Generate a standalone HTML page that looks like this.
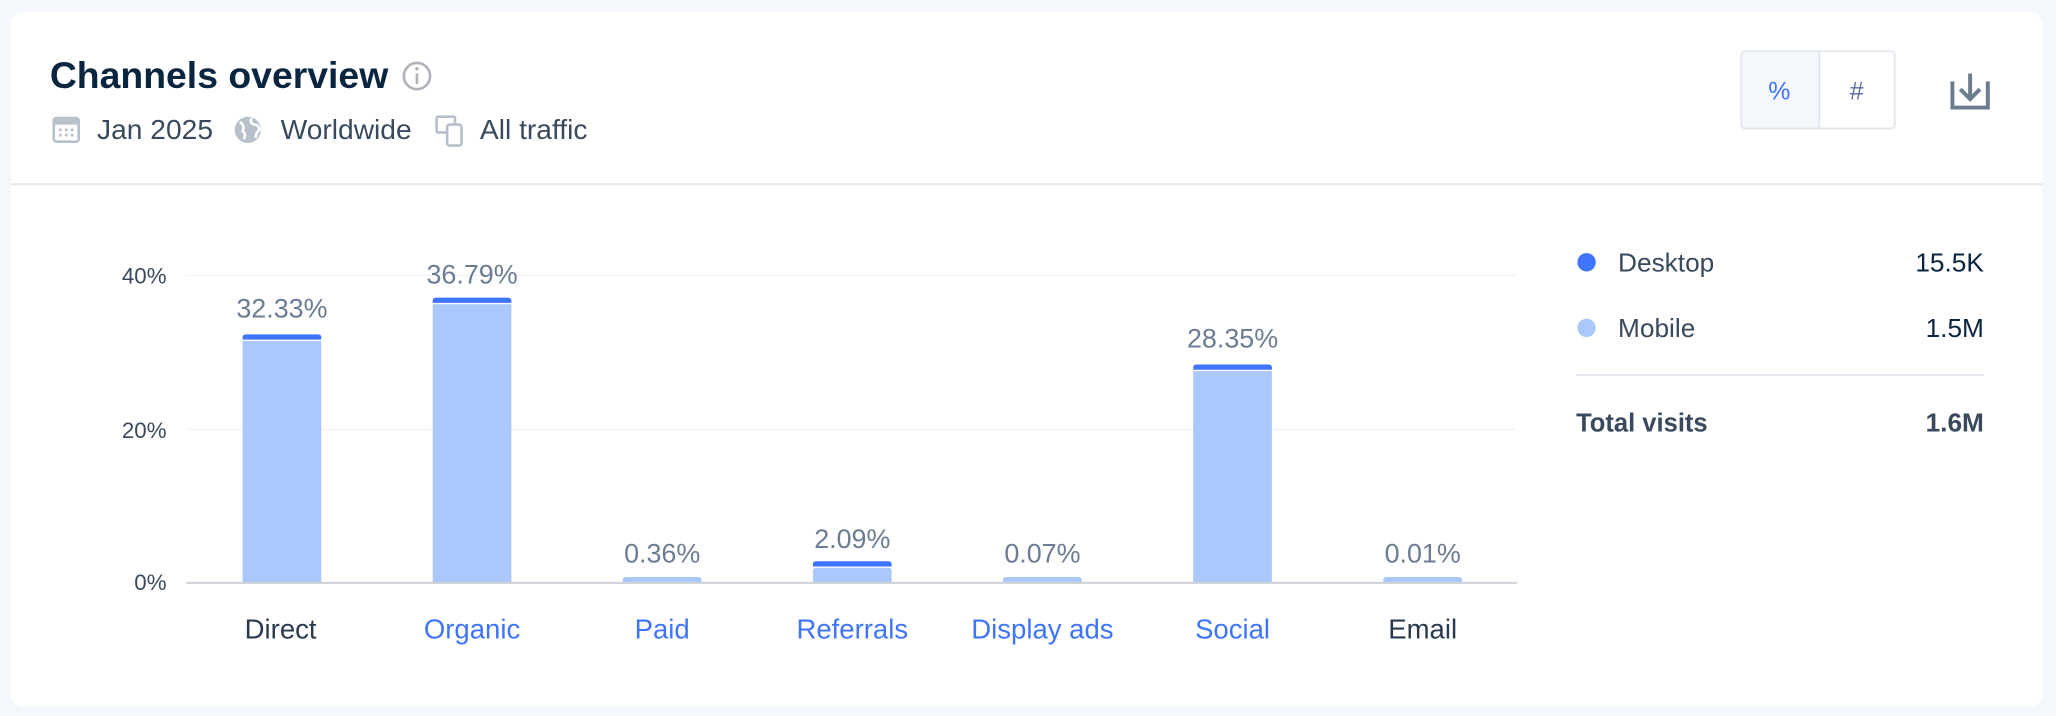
<!DOCTYPE html>
<html><head><meta charset="utf-8"><style>
html,body{margin:0;padding:0;background:#f4f7fb;}
svg{display:block;font-family:"Liberation Sans",sans-serif;}
</style></head><body>
<svg width="2056" height="716" viewBox="0 0 1568 546" xmlns="http://www.w3.org/2000/svg">
<rect x="0" y="0" width="1568" height="546" fill="#f4f7fb"/>
<rect x="8" y="9" width="1550" height="530" rx="10" fill="#ffffff"/>
<line x1="8" y1="140.5" x2="1558" y2="140.5" stroke="#e4e7ee" stroke-width="1.5"/>
<text x="38" y="67" font-size="28.5" font-weight="bold" fill="#092540">Channels overview</text>
<circle cx="318" cy="58" r="10" fill="none" stroke="#b0b4ba" stroke-width="2"/>
<rect x="317" y="56" width="2" height="8" fill="#b0b4ba"/><circle cx="318" cy="52.5" r="1.3" fill="#b0b4ba"/>
<!-- calendar -->
<rect x="41" y="90" width="19" height="18" rx="2" fill="none" stroke="#b8c0cc" stroke-width="2"/>
<rect x="41" y="90" width="19" height="5" fill="#b8c0cc"/>
<g fill="#b8c0cc"><rect x="45" y="98" width="2" height="2"/><rect x="49.5" y="98" width="2" height="2"/><rect x="54" y="98" width="2" height="2"/><rect x="45" y="102" width="2" height="2"/><rect x="49.5" y="102" width="2" height="2"/><rect x="54" y="102" width="2" height="2"/></g>
<text x="74" y="106" font-size="21.5" fill="#3a4a5e">Jan 2025</text>
<circle cx="189" cy="99" r="10" fill="#b8c0cc"/>
<path d="M183 93 q4 3 2 7 q3 2 1 6 M192 90 q-2 4 2 5 q3 0 4 4 q-3 2 -3 6" stroke="#fff" stroke-width="2" fill="none"/>
<text x="214" y="106" font-size="21.5" fill="#3a4a5e">Worldwide</text>
<rect x="333" y="89" width="14" height="12" rx="1" fill="none" stroke="#b8c0cc" stroke-width="2"/>
<rect x="341" y="95" width="11" height="16" rx="2" fill="#fff" stroke="#b8c0cc" stroke-width="2"/>
<text x="366" y="106" font-size="21.5" fill="#3a4a5e">All traffic</text>
<!-- toggle -->
<rect x="1328" y="39" width="117" height="59" rx="3" fill="#fff" stroke="#e4e7ee" stroke-width="1.5"/>
<path d="M1331 39.75 H1387 V97.25 H1331 a3 3 0 0 1 -2.25 -2.25 V42 a3 3 0 0 1 2.25 -2.25z" fill="#f4f7fb"/>
<line x1="1387.5" y1="39" x2="1387.5" y2="98" stroke="#e4e7ee" stroke-width="1.5"/>
<text x="1357" y="76" font-size="19" fill="#3e74fe" text-anchor="middle">%</text>
<text x="1416" y="76" font-size="19" fill="#5a6a9a" text-anchor="middle">#</text>
<!-- download -->
<path d="M1489 62 V82 H1516 V62" fill="none" stroke="#6b7c8f" stroke-width="3"/>
<path d="M1502.5 56 V75 M1495 68 L1502.5 75.5 L1510 68" fill="none" stroke="#6b7c8f" stroke-width="3"/>
<!-- chart -->
<line x1="142" y1="210" x2="1157" y2="210" stroke="#f1f2f5" stroke-width="1"/>
<line x1="142" y1="327.5" x2="1157" y2="327.5" stroke="#f1f2f5" stroke-width="1"/>
<g font-size="17" fill="#3a4a5e" text-anchor="end">
<text x="127" y="216">40%</text><text x="127" y="334">20%</text><text x="127" y="450">0%</text>
</g>
<g fill="#aac8fc">
<path d="M185 444 V260 h60 V444z"/>
<path d="M330 444 V232 h60 V444z"/>
<path d="M475 444 V442 q0-2 3-2 h54 q3 0 3 2 V444z"/>
<path d="M620 444 V435 q0-2 3-2 h54 q3 0 3 2 V444z"/>
<path d="M765 444 V442 q0-2 3-2 h54 q3 0 3 2 V444z"/>
<path d="M910 444 V283 h60 V444z"/>
<path d="M1055 444 V442 q0-2 3-2 h54 q3 0 3 2 V444z"/>
</g>
<g fill="#3e74fe">
<path d="M185 259 V257 q0-2 3-2 h54 q3 0 3 2 V259z"/>
<path d="M330 231 V229 q0-2 3-2 h54 q3 0 3 2 V231z"/>
<path d="M620 432 V430 q0-2 3-2 h54 q3 0 3 2 V432z"/>
<path d="M910 282 V280 q0-2 3-2 h54 q3 0 3 2 V282z"/>
</g>
<line x1="142" y1="444.5" x2="1157" y2="444.5" stroke="#cdd1d8" stroke-width="1.5"/>
<g font-size="20.5" fill="#6b7c93" text-anchor="middle">
<text x="215" y="242">32.33%</text><text x="360" y="216">36.79%</text><text x="505" y="429">0.36%</text>
<text x="650" y="418">2.09%</text><text x="795" y="429">0.07%</text><text x="940" y="265">28.35%</text><text x="1085" y="429">0.01%</text>
</g>
<g font-size="21" text-anchor="middle">
<text x="214" y="487" fill="#2a3a4e">Direct</text>
<text x="360" y="487" fill="#3e74fe">Organic</text>
<text x="505" y="487" fill="#3e74fe">Paid</text>
<text x="650" y="487" fill="#3e74fe">Referrals</text>
<text x="795" y="487" fill="#3e74fe">Display ads</text>
<text x="940" y="487" fill="#3e74fe">Social</text>
<text x="1085" y="487" fill="#2a3a4e">Email</text>
</g>
<!-- legend -->
<circle cx="1210" cy="200" r="7" fill="#3e74fe"/>
<text x="1234" y="207" font-size="20" fill="#3a4a5e">Desktop</text>
<text x="1513" y="207" font-size="20" fill="#092540" text-anchor="end">15.5K</text>
<circle cx="1210" cy="250" r="7" fill="#aac8fc"/>
<text x="1234" y="257" font-size="20" fill="#3a4a5e">Mobile</text>
<text x="1513" y="257" font-size="20" fill="#092540" text-anchor="end">1.5M</text>
<line x1="1202" y1="286" x2="1513" y2="286" stroke="#e4e7ee" stroke-width="1.5"/>
<text x="1202" y="329" font-size="19.5" font-weight="bold" fill="#3a4a5e">Total visits</text>
<text x="1513" y="329" font-size="20" font-weight="bold" fill="#3a4a5e" text-anchor="end">1.6M</text>
</svg>
</body></html>
